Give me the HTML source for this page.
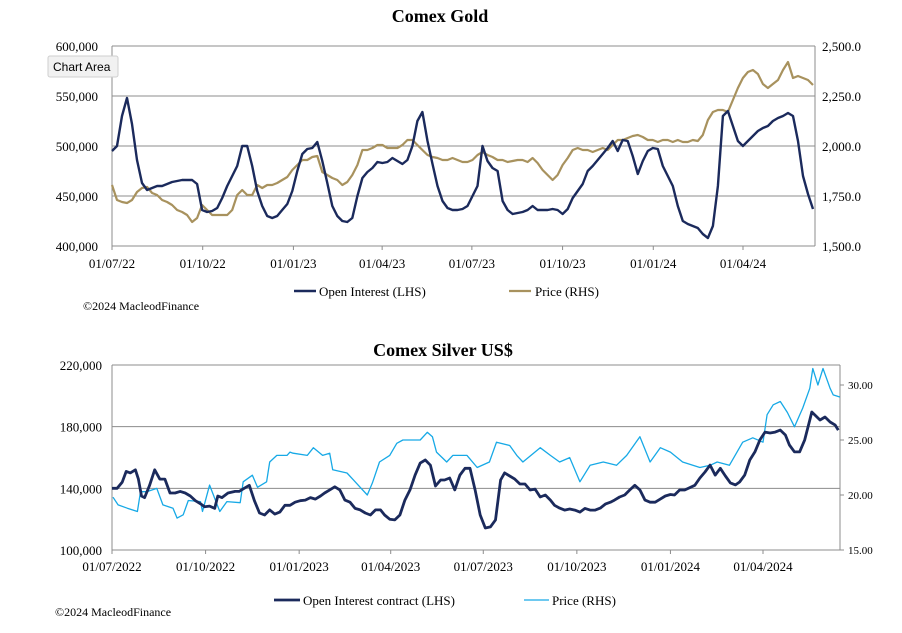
<!DOCTYPE html>
<html><head><meta charset="utf-8"><style>
body{margin:0;background:#fff;}
svg text{font-family:"Liberation Serif",serif;fill:#000;}
</style></head><body>
<svg id="c" width="902" height="628" viewBox="0 0 902 628" xmlns="http://www.w3.org/2000/svg">
<g id="gold"></g>
<g id="silver"></g>
<g>
<rect x="48" y="56" width="70" height="21" rx="2" fill="#f1f1f1" stroke="#cfcfcf"/>
<text x="53" y="71" style="font-family:'Liberation Sans',sans-serif;font-size:12px">Chart Area</text>
</g>
</svg>
<script>
// ---- Gold data (evenly spaced from day 0 to goldEndDay, day 0 = 2022-07-01)
const goldEndDay = 711;
const goldOI = [495,500,530,548,522,486,463,456,458,460,460,462,464,465,466,466,466,462,436,434,435,438,448,460,470,480,500,500,480,455,440,430,428,430,436,442,455,475,492,497,498,504,485,463,440,430,425,424,428,450,468,474,478,484,483,484,488,485,482,486,500,525,534,505,482,460,445,438,436,436,437,440,450,460,500,485,478,475,445,436,432,433,434,436,440,436,436,436,437,436,432,437,448,455,462,475,480,486,492,498,505,495,506,505,490,472,485,495,498,497,480,470,460,440,425,422,420,418,412,408,420,460,530,535,520,505,500,505,510,515,518,520,525,528,530,533,530,505,470,452,437];
const goldPrice = [1805,1730,1720,1715,1730,1770,1790,1795,1765,1755,1730,1720,1705,1680,1670,1655,1620,1640,1705,1680,1655,1655,1655,1655,1680,1755,1780,1755,1755,1805,1790,1805,1805,1815,1830,1845,1880,1905,1930,1930,1945,1950,1870,1855,1840,1830,1805,1820,1855,1905,1980,1980,1990,2005,2005,1990,1990,1990,2005,2030,2030,2005,1980,1955,1945,1940,1930,1930,1940,1930,1920,1920,1930,1955,1970,1955,1945,1930,1930,1920,1925,1930,1930,1920,1940,1915,1880,1855,1830,1855,1905,1940,1980,1990,1980,1980,1970,1980,1990,1980,2005,2030,2030,2040,2050,2055,2045,2030,2030,2020,2030,2030,2020,2030,2020,2020,2030,2025,2055,2130,2170,2180,2180,2170,2230,2290,2340,2370,2380,2360,2310,2290,2310,2330,2380,2420,2340,2350,2340,2330,2305];
const goldLeftTicks = [400000,450000,500000,550000,600000];
const goldRightTicks = [1500,1750,2000,2250,2500];
const goldDateLabels = ["01/07/22","01/10/22","01/01/23","01/04/23","01/07/23","01/10/23","01/01/24","01/04/24"];
const goldDateDays = [0,92,184,274,365,457,549,640];

// ---- Silver data (day offsets from 2022-07-01)
const silverOIDays = [0,5,10,14,18,23,26,29,32,37,42,47,52,57,62,67,72,77,82,87,91,96,101,104,108,114,121,125,130,135,140,145,150,155,160,165,170,175,180,185,190,195,200,205,209,214,219,224,229,234,239,244,249,254,259,264,268,273,278,283,288,293,298,303,308,313,318,323,327,332,337,342,347,352,357,362,367,372,377,382,386,391,396,401,406,411,416,421,426,431,435,440,445,450,455,460,465,470,475,480,485,490,494,499,504,509,514,519,524,529,534,539,544,549,553,558,563,573,578,583,588,593,598,603,608,613,617,622,627,632,637,642,647,652,657,662,666,671,676,681,686,688,691,696,701,706,711,714];
const silverOI = [140,140,144,151,150,152,146,135,134,142,152,146,146,137,137,138,137,135,132,130,128,128.5,127,135,134,137,138,138,140,142,132,124,122.7,126,123.3,124.6,129,129,131,132,132.4,134,133,135,137,139,141,139,132.4,131,127,126,124,122.7,126,126,122.7,120,119.5,122.7,132.4,139,148.6,156.4,158.4,155,141.5,145.4,145.4,146.7,139,148.6,153,153,139,122.7,114.3,115,119.5,145.4,150,148,146,142.8,142.8,138.9,139.5,134.4,135.7,132.4,129,127.2,125.9,126.6,125.9,124.6,127,125.9,125.9,127.2,129.8,131,132.4,134.4,135.7,138.9,142,139,132.4,131,131,133,135,136,135.7,138.9,138.9,142,146.7,150.6,155.1,148.6,153,148,143.5,142.2,144.1,148.6,158.4,163.6,171.4,176.5,175.9,176.5,177.8,174.6,168.1,163.6,163.6,171.4,184.3,189.5,187.6,184.3,186.3,183,181,177.8];
const silverPriceDays = [1,6,15,25,28,34,44,50,60,64,70,75,87,89,96,106,113,126,129,138,143,152,155,162,172,175,178,192,198,207,214,217,231,237,244,251,256,263,273,280,286,303,310,315,319,329,335,349,359,371,378,391,398,404,421,431,440,450,460,470,483,496,506,519,529,539,549,561,578,588,595,607,620,630,640,644,650,657,664,671,679,686,689,694,699,706,709,716];
const silverPrice = [19.8,19.1,18.8,18.5,20.3,20.3,20.6,19.1,18.8,17.9,18.2,19.5,19.4,18.5,20.9,18.5,19.4,19.3,21.2,21.8,20.7,21.2,23,23.6,23.6,23.9,23.8,23.6,24.3,23.6,23.8,22.3,22,21.4,20.7,20,21.1,23,23.6,24.7,25,25,25.7,25.3,23.9,23,23.6,23.6,22.5,23,24.8,24.5,23.6,23,24.3,23.6,23,23.4,21.2,22.7,23,22.7,23.6,25.3,23,24.3,23.9,23,22.5,22.7,23,22.7,24.8,25.2,24.8,27.3,28.2,28.5,27.5,26.2,27.9,29.7,31.5,30,31.5,29.7,29.1,28.9];
const silverLeftTicks = [100000,140000,180000,220000];
const silverRightTicks = [15,20,25,30];
const silverDateLabels = ["01/07/2022","01/10/2022","01/01/2023","01/04/2023","01/07/2023","01/10/2023","01/01/2024","01/04/2024"];
const silverDateDays = [0,92,184,274,365,457,549,640];

const NS = "http://www.w3.org/2000/svg";
function mk(parent, tag, attrs, txt){
  const e = document.createElementNS(NS, tag);
  for (const k in attrs) e.setAttribute(k, attrs[k]);
  if (txt !== undefined) e.textContent = txt;
  parent.appendChild(e); return e;
}
function fmt(v){ return v.toLocaleString('en-US'); }

// ===== GOLD =====
(function(){
  const g = document.getElementById('gold');
  const L=112, R=815, T=46, B=246;
  const ppd = (743-112)/640;
  const xd = d => L + d*ppd;
  const yl = v => B - (v-400000)/200000*(B-T);
  const yr = v => B - (v-1500)/1000*(B-T);
  const t = mk(g,'text',{x:440,y:22,'text-anchor':'middle','font-size':18,'font-weight':'bold'},'Comex Gold');
  
  
  goldLeftTicks.forEach(v=>{
    const y=yl(v);
    if(v>400000){ const ln=mk(g,'line',{x1:L,x2:R,y1:y,y2:y,stroke:'#8c8c8c','stroke-width':1});
        }
    const lb=mk(g,'text',{x:98,y:y+5,'text-anchor':'end','font-size':13},fmt(v));
    
    
  });
  goldRightTicks.forEach(v=>{
    const lb=mk(g,'text',{x:822,y:yr(v)+5,'font-size':13},v.toLocaleString('en-US',{minimumFractionDigits:1}));
    
    
  });
  const ax=mk(g,'path',{d:`M${L},${T} V${B} H${R} M${R},${T} V${B}`,stroke:'#8c8c8c',fill:'none','stroke-width':1});
  
  
  goldDateDays.forEach((d,i)=>{
    const x=xd(d);
    mk(g,'line',{x1:x,x2:x,y1:B,y2:B+4,stroke:'#8c8c8c'});
    const lb=mk(g,'text',{x:x,y:268,'text-anchor':'middle','font-size':13},goldDateLabels[i]);
    
    
  });
  const n1=goldPrice.length, n2=goldOI.length;
  const pp=goldPrice.map((v,i)=>`${i?'L':'M'}${xd(i*goldEndDay/(n1-1)).toFixed(1)},${yr(v).toFixed(1)}`).join('');
  const pl=mk(g,'path',{d:pp,stroke:'#a8925e',fill:'none','stroke-width':2.2,'stroke-linejoin':'round'});
  
  
  const op=goldOI.map((v,i)=>`${i?'L':'M'}${xd(i*goldEndDay/(n2-1)).toFixed(1)},${yl(v*1000).toFixed(1)}`).join('');
  const ol=mk(g,'path',{d:op,stroke:'#1b2a5c',fill:'none','stroke-width':2.4,'stroke-linejoin':'round'});
  
  
  const lg=mk(g,'g',{});
  
  
  mk(lg,'line',{x1:294,x2:316,y1:291,y2:291,stroke:'#1b2a5c','stroke-width':2.4});
  mk(lg,'text',{x:319,y:296,'font-size':13},'Open Interest (LHS)');
  mk(lg,'line',{x1:509,x2:531,y1:291,y2:291,stroke:'#a8925e','stroke-width':2.2});
  mk(lg,'text',{x:535,y:296,'font-size':13},'Price (RHS)');
  const cp=mk(g,'text',{x:83,y:310,'font-size':12},'©2024 MacleodFinance');
  
  
})();

// ===== SILVER =====
(function(){
  const g = document.getElementById('silver');
  const L=112, R=840, T=365, B=550;
  const ppd = (763-112)/640;
  const xd = d => L + d*ppd;
  const yl = v => B - (v-100000)/120000*(B-T);
  const yr = v => B - (v-15)*11;
  const t=mk(g,'text',{x:443,y:356,'text-anchor':'middle','font-size':18,'font-weight':'bold'},'Comex Silver US$');
  
  
  silverLeftTicks.forEach(v=>{
    const y=yl(v);
    if(v>100000){ const ln=mk(g,'line',{x1:L,x2:R,y1:y,y2:y,stroke:'#8c8c8c','stroke-width':1});
        }
    const lb=mk(g,'text',{x:102,y:y+5,'text-anchor':'end','font-size':13},fmt(v));
    
    
  });
  silverRightTicks.forEach(v=>{
    const y=yr(v);
    mk(g,'line',{x1:R,x2:R+4,y1:y,y2:y,stroke:'#8c8c8c'});
    const lb=mk(g,'text',{x:848,y:y+4,'font-size':11},v.toFixed(2));
    
    
  });
  const ax=mk(g,'path',{d:`M${L},${T} V${B} H${R} M${R},${T} V${B}`,stroke:'#8c8c8c',fill:'none','stroke-width':1});
  
  
  silverDateDays.forEach((d,i)=>{
    const x=xd(d);
    mk(g,'line',{x1:x,x2:x,y1:B,y2:B+4,stroke:'#8c8c8c'});
    const lb=mk(g,'text',{x:x,y:571,'text-anchor':'middle','font-size':13},silverDateLabels[i]);
    
    
  });
  mk(g,'clipPath',{id:'sclip'}).appendChild(Object.assign(document.createElementNS(NS,'rect'),{}));
  const cr=document.querySelector('#sclip rect');
  cr.setAttribute('x',L);cr.setAttribute('y',T);cr.setAttribute('width',R-L);cr.setAttribute('height',B-T);
  const pp=silverPrice.map((v,i)=>`${i?'L':'M'}${xd(silverPriceDays[i]).toFixed(1)},${yr(v).toFixed(1)}`).join('');
  const pl=mk(g,'path',{d:pp,stroke:'#17a9e6',fill:'none','stroke-width':1.3,'stroke-linejoin':'round','clip-path':'url(#sclip)'});
  
  
  const op=silverOI.map((v,i)=>`${i?'L':'M'}${xd(silverOIDays[i]).toFixed(1)},${yl(v*1000).toFixed(1)}`).join('');
  const ol=mk(g,'path',{d:op,stroke:'#1b2a5c',fill:'none','stroke-width':2.8,'stroke-linejoin':'round'});
  
  
  const lg=mk(g,'g',{});
  
  
  mk(lg,'line',{x1:274,x2:300,y1:600,y2:600,stroke:'#1b2a5c','stroke-width':2.8});
  mk(lg,'text',{x:303,y:605,'font-size':13},'Open Interest contract (LHS)');
  mk(lg,'line',{x1:524,x2:549,y1:600,y2:600,stroke:'#17a9e6','stroke-width':1.3});
  mk(lg,'text',{x:552,y:605,'font-size':13},'Price (RHS)');
  const cp=mk(g,'text',{x:55,y:616,'font-size':12},'©2024 MacleodFinance');
  
  
})();
</script>
</body></html>
